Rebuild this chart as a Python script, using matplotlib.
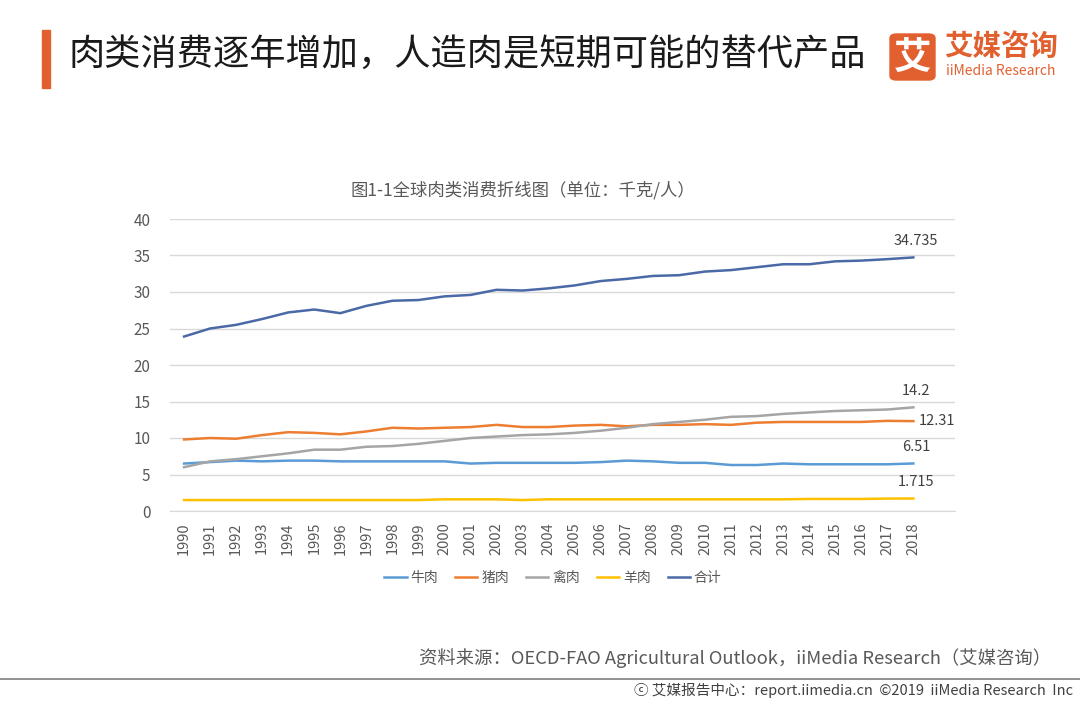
import matplotlib

matplotlib.use("Agg")
import matplotlib.pyplot as plt
from matplotlib.patches import FancyBboxPatch, Rectangle
import numpy as np

plt.rcParams["font.family"] = ["Noto Sans CJK SC", "DejaVu Sans"]

years = [str(y) for y in range(1990, 2019)]

beef = [6.5, 6.7, 6.9, 6.8, 6.9, 6.9, 6.8, 6.8, 6.8, 6.8, 6.8, 6.5, 6.6, 6.6, 6.6,
        6.6, 6.7, 6.9, 6.8, 6.6, 6.6, 6.3, 6.3, 6.5, 6.4, 6.4, 6.4, 6.4, 6.51]
pork = [9.8, 10.0, 9.9, 10.4, 10.8, 10.7, 10.5, 10.9, 11.4, 11.3, 11.4, 11.5, 11.8, 11.5, 11.5,
        11.7, 11.8, 11.6, 11.8, 11.8, 11.9, 11.8, 12.1, 12.2, 12.2, 12.2, 12.2, 12.35, 12.31]
poultry = [6.0, 6.8, 7.1, 7.5, 7.9, 8.4, 8.4, 8.8, 8.9, 9.2, 9.6, 10.0, 10.2, 10.4, 10.5,
           10.7, 11.0, 11.4, 11.9, 12.2, 12.5, 12.9, 13.0, 13.3, 13.5, 13.7, 13.8, 13.9, 14.2]
mutton = [1.5, 1.5, 1.5, 1.5, 1.5, 1.5, 1.5, 1.5, 1.5, 1.5, 1.6, 1.6, 1.6, 1.5, 1.6,
          1.6, 1.6, 1.6, 1.6, 1.6, 1.6, 1.6, 1.6, 1.6, 1.65, 1.65, 1.65, 1.7, 1.715]
total = [23.9, 25.0, 25.5, 26.3, 27.2, 27.6, 27.1, 28.1, 28.8, 28.9, 29.4, 29.6, 30.3, 30.2, 30.5,
         30.9, 31.5, 31.8, 32.2, 32.3, 32.8, 33.0, 33.4, 33.8, 33.8, 34.2, 34.3, 34.5, 34.735]

series = [
    ("牛肉", beef, "#5B9BD5"),
    ("猪肉", pork, "#ED7D31"),
    ("禽肉", poultry, "#A5A5A5"),
    ("羊肉", mutton, "#FFC000"),
    ("合计", total, "#4A69A6"),
]
end_labels = {"牛肉": "6.51", "猪肉": "12.31", "禽肉": "14.2", "羊肉": "1.715", "合计": "34.735"}

ORANGE = "#E2602F"
GREY = "#595959"

fig = plt.figure(figsize=(10.8, 7.03), dpi=100)

# header
fig.patches.append(Rectangle((42 / 1080, 1 - 88 / 703), 8 / 1080, 58 / 703,
                             transform=fig.transFigure, color=ORANGE))
fig.text(68 / 1080, 1 - 55 / 703, "肉类消费逐年增加，人造肉是短期可能的替代产品",
         fontsize=26.1, color="#1a1a1a", va="center", ha="left")
fig.patches.append(FancyBboxPatch((890 / 1080, 1 - 80 / 703), 45 / 1080, 46 / 703,
                                  boxstyle="round,pad=0,rounding_size=0.006",
                                  transform=fig.transFigure, color=ORANGE))
fig.text(912.5 / 1080, 1 - 57 / 703, "艾", fontsize=27, color="white",
         ha="center", va="center", fontweight="bold")
fig.text(944 / 1080, 1 - 47 / 703, "艾媒咨询", fontsize=20.5, color=ORANGE,
         ha="left", va="center", fontweight="bold")
fig.text(946 / 1080, 1 - 71 / 703, "iiMedia Research", fontsize=10, color=ORANGE,
         ha="left", va="center")

# chart
ax = fig.add_axes([170 / 1080, 192 / 703, 785 / 1080, 292 / 703])
x = np.arange(len(years))
for name, vals, color in series:
    ax.plot(x, vals, color=color, lw=1.8, label=name)

for name, vals, color in series:
    if name == "猪肉":
        ax.annotate(end_labels[name], (x[-1], vals[-1]), xytext=(4, 0),
                    textcoords="offset points", ha="left", va="center",
                    fontsize=10.5, color="#404040")
    else:
        ax.annotate(end_labels[name], (x[-1], vals[-1]), xytext=(2, 7),
                    textcoords="offset points", ha="center", va="bottom",
                    fontsize=10.5, color="#404040")

ax.set_xlim(-0.54, 29.6)
ax.set_ylim(0, 40)
ax.set_yticks(range(0, 41, 5))
ax.yaxis.grid(True, color="#D9D9D9", lw=1)
ax.set_axisbelow(True)
for side in ["top", "right", "left"]:
    ax.spines[side].set_visible(False)
ax.spines["bottom"].set_color("#D9D9D9")
ax.set_xticks(x)
ax.set_xticklabels(years, rotation=90, fontsize=10.5, color=GREY)
ax.tick_params(axis="both", length=0, pad=8)
ax.tick_params(axis="y", labelsize=11, labelcolor=GREY, pad=14)

fig.text(523 / 1080, 1 - 190 / 703, "图1-1全球肉类消费折线图（单位：千克/人）",
         fontsize=12.5, color=GREY, ha="center", va="center")

ax.legend(loc="center", bbox_to_anchor=(553 / 1080, 1 - 578 / 703),
          bbox_transform=fig.transFigure, ncol=5, frameon=False,
          fontsize=10, handlelength=1.6, handletextpad=0.3, columnspacing=1.2,
          labelcolor=GREY)

# source and footer
fig.text(1051 / 1080, 1 - 658 / 703,
         "资料来源：OECD-FAO Agricultural Outlook，iiMedia Research（艾媒咨询）",
         fontsize=13.2, color=GREY, ha="right", va="center")
fig.lines.append(plt.Line2D([0, 1], [1 - 679 / 703] * 2, transform=fig.transFigure,
                            color="#7F7F7F", lw=1.2))
fig.text(1073 / 1080, 1 - 690 / 703,
         "\u24D2 艾媒报告中心：report.iimedia.cn  ©2019  iiMedia Research  Inc",
         fontsize=10.5, color="#404040", ha="right", va="center")

fig.savefig("out.png", dpi=100)
